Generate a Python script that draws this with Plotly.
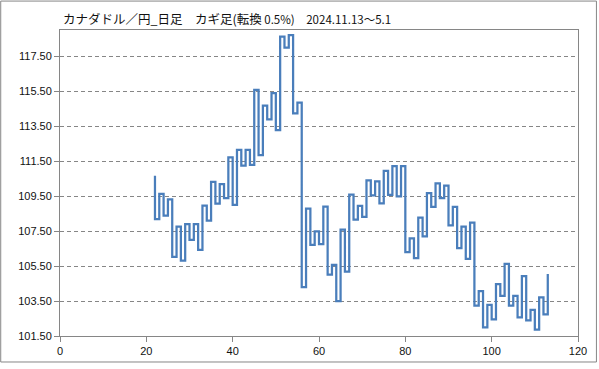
import plotly.graph_objects as go

# Kagi chart data: CAD/JPY daily, reversal 0.5%
start_level = 110.66
turn_x = list(range(22, 114))
levels = [
    108.18, 109.63, 108.38, 109.32, 106.03, 107.75, 105.81, 107.90, 107.00, 107.90,
    106.43, 108.96, 108.10, 110.32, 109.07, 110.19, 109.39, 111.72, 109.00, 112.15,
    111.24, 112.15, 111.28, 115.57, 111.84, 114.68, 113.89, 115.39, 113.28, 118.62,
    117.99, 118.71, 114.23, 114.85, 104.30, 108.78, 106.71, 107.48, 106.75, 108.90,
    105.01, 105.57, 103.50, 107.59, 105.18, 109.59, 108.15, 108.94, 108.32, 110.40,
    109.54, 110.34, 109.09, 110.94, 109.57, 111.22, 109.48, 111.22, 106.30, 107.09,
    105.95, 108.27, 107.20, 109.67, 108.88, 110.23, 109.39, 110.10, 107.82, 108.88,
    106.53, 107.76, 105.91, 107.99, 103.24, 104.06, 101.99, 103.28, 102.45, 104.47,
    103.80, 105.63, 103.24, 103.80, 102.57, 104.92, 102.40, 102.99, 101.87, 103.71,
    102.73, 105.05,
]
x_ticks = [0, 20, 40, 60, 80, 100, 120]
y_ticks = [101.5, 103.5, 105.5, 107.5, 109.5, 111.5, 113.5, 115.5, 117.5]
title_main = "カナダドル／円_日足　カギ足(転換"
title_tail = " 0.5%)　2024.11.13〜5.1"

xs = [turn_x[0]] + turn_x
ys = [start_level] + levels

fig = go.Figure()
fig.add_trace(go.Scatter(
    x=xs, y=ys, mode="lines", line_shape="hv",
    line=dict(color="#4A7EBB", width=2.25),
    hoverinfo="skip", showlegend=False,
))

W, H = 599, 369
L, R, T, B = 60, 19, 30, 27
pw, ph = W - L - R, H - T - B

def px_x(p):
    return (p - L) / pw

def px_y(p):
    return (H - B - p) / ph

fig.update_layout(
    width=W, height=H,
    margin=dict(l=L, r=R, t=T, b=B, pad=0),
    paper_bgcolor="white", plot_bgcolor="white",
    font=dict(family="Liberation Sans, Arial, sans-serif", size=11, color="#111111"),
    xaxis=dict(
        range=[0, 120], tickvals=x_ticks, ticktext=[str(v) for v in x_ticks],
        showgrid=False, zeroline=False,
        showline=True, linecolor="#868686", linewidth=1, mirror=True,
        ticks="outside", ticklen=5, tickcolor="#868686", tickwidth=1,
        tickfont=dict(size=11),
    ),
    yaxis=dict(
        range=[101.5, 119.0], tickvals=y_ticks,
        ticktext=[f"{v:.2f}" for v in y_ticks],
        showgrid=True, gridcolor="#868686", gridwidth=1, griddash="4px,3px",
        zeroline=False,
        showline=True, linecolor="#868686", linewidth=1, mirror=True,
        ticks="outside", ticklen=5, tickcolor="#868686", tickwidth=1,
        tickfont=dict(size=11),
    ),
    annotations=[dict(
        xref="paper", yref="paper", x=px_x(61), y=px_y(18),
        xanchor="left", yanchor="middle", showarrow=False,
        text=title_main + "<span style='font-size:11.5px'>" + title_tail + "</span>",
        font=dict(family="Noto Sans CJK JP", size=12.5, color="#111111"),
    )],
    shapes=[dict(
        type="rect", xref="paper", yref="paper",
        x0=px_x(0.5), x1=px_x(598.5), y0=px_y(368.5), y1=px_y(0.5),
        line=dict(color="#868686", width=1), fillcolor="rgba(0,0,0,0)",
        layer="above",
    )],
)

fig.write_html("out.html", config={"displayModeBar": False},
               post_script="document.body.style.margin='0';")
